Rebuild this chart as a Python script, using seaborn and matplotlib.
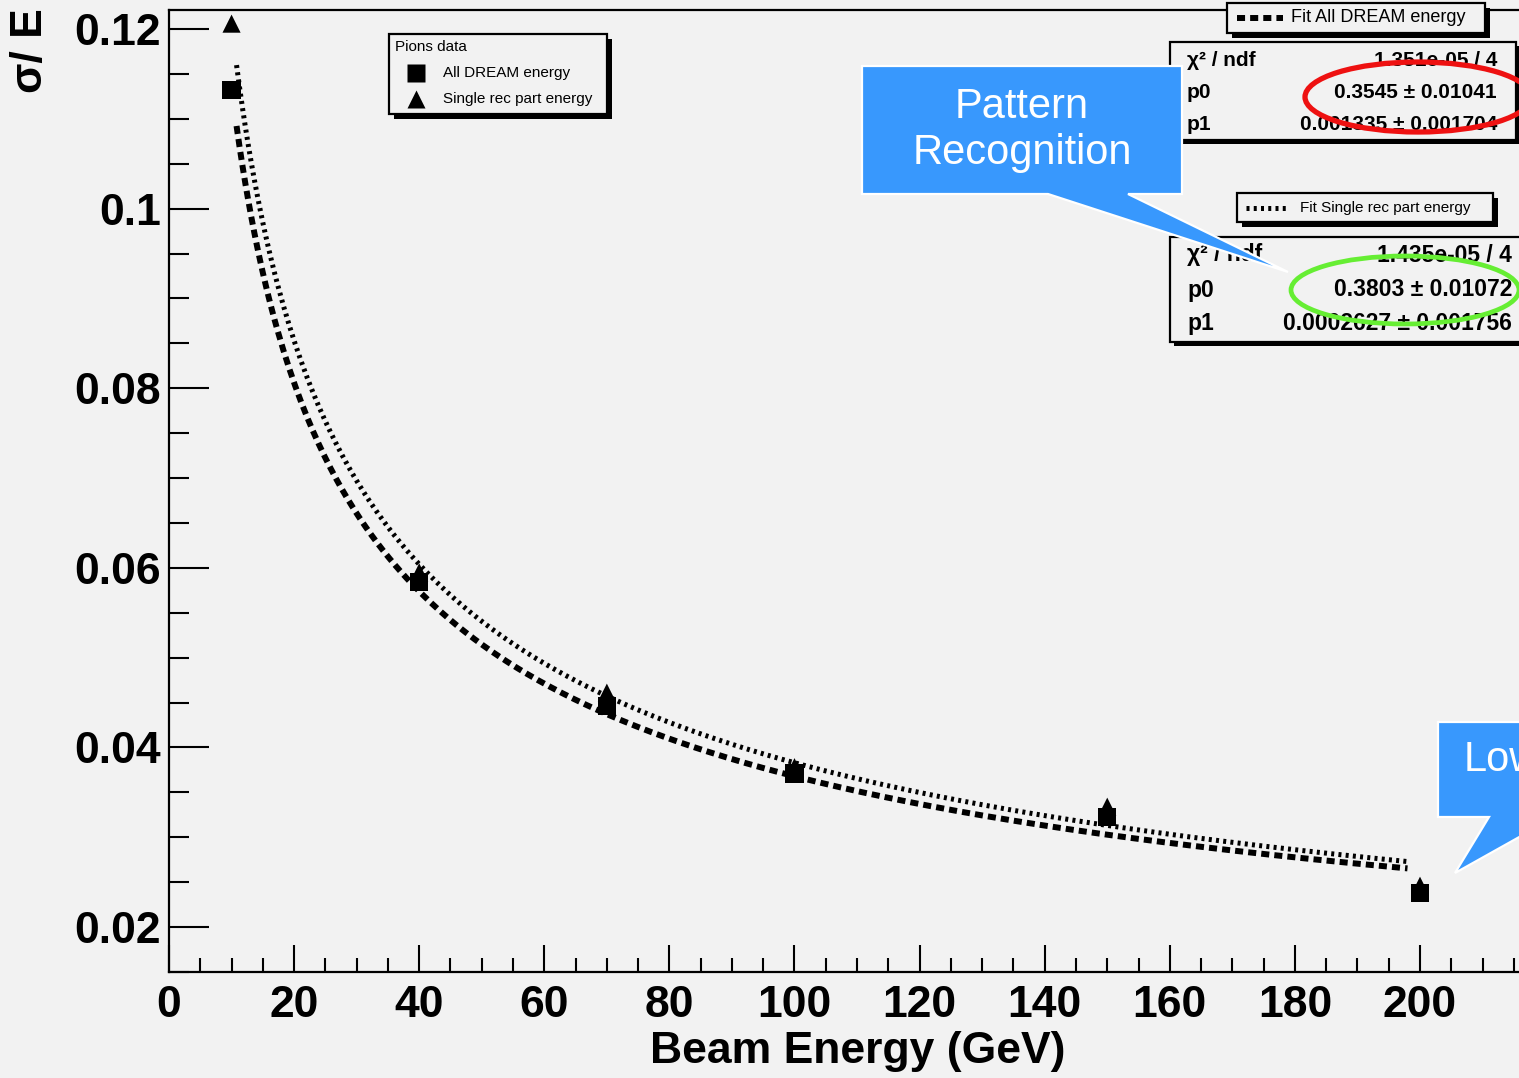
import numpy as np
import pandas as pd
import matplotlib
matplotlib.use("Agg")
import matplotlib.pyplot as plt
import seaborn as sns
from matplotlib.patches import Rectangle, Polygon, Ellipse
from matplotlib.lines import Line2D
from matplotlib.ticker import MultipleLocator, FuncFormatter

# ---- measured resolution for pions ----
beam_energy = [10, 40, 70, 100, 150, 200]
res_all_dream = [0.1132, 0.0584, 0.0446, 0.0371, 0.0323, 0.0238]
res_single_rec = [0.1206, 0.0595, 0.0461, 0.0378, 0.0334, 0.0246]

# ---- fit results: sigma/E = p0/sqrt(E) + p1 ----
chi2_all = "1.351e-05 / 4"
p0_all, p0_all_err = 0.3545, 0.01041
p1_all, p1_all_err = 0.001335, 0.001704

chi2_single = "1.435e-05 / 4"
p0_single, p0_single_err = 0.3803, 0.01072
p1_single, p1_single_err = 0.0002627, 0.001756

fit_range = (10.8, 198.0)

x_ticks = [0, 20, 40, 60, 80, 100, 120, 140, 160, 180, 200]
y_ticks = [0.02, 0.04, 0.06, 0.08, 0.1, 0.12]

W, H = 1519, 1078
BG = "#f2f2f2"
BLUE = "#3898fd"

sns.set_style("ticks")
plt.rcParams["font.family"] = ["Liberation Sans", "DejaVu Sans"]
plt.rcParams["text.color"] = "black"
plt.rcParams["xtick.color"] = "black"
plt.rcParams["ytick.color"] = "black"
plt.rcParams["xtick.labelcolor"] = "black"
plt.rcParams["ytick.labelcolor"] = "black"

fig = plt.figure(figsize=(W / 100, H / 100), dpi=100)
fig.patch.set_facecolor(BG)


def F(px, py):
    return (px / W, 1 - py / H)


def box(x0, y0, x1, y1, shadow=5, z=5, lw=1.6):
    if shadow:
        fig.add_artist(Rectangle(F(x0 + shadow, y1 + shadow), (x1 - x0) / W, (y1 - y0) / H,
                                 transform=fig.transFigure, facecolor="black",
                                 edgecolor="none", zorder=z))
    fig.add_artist(Rectangle(F(x0, y1), (x1 - x0) / W, (y1 - y0) / H,
                             transform=fig.transFigure, facecolor=BG,
                             edgecolor="black", lw=lw, zorder=z + 0.1))


# axes: x from 0 at px 169, 6.255 px per GeV
x0px, pxx = 169, 6.255
xmax = 220
ytop, ybot = 0.12212, 0.01499
ax = fig.add_axes([x0px / W, 1 - 972 / H, xmax * pxx / W, (972 - 10) / H])
ax.set_facecolor(BG)
ax.set_xlim(0, xmax)
ax.set_ylim(ybot, ytop)

# data points
pts = pd.DataFrame({
    "energy": beam_energy * 2,
    "res": res_all_dream + res_single_rec,
    "sample": ["All DREAM energy"] * len(beam_energy) + ["Single rec part energy"] * len(beam_energy),
})
sns.scatterplot(data=pts, x="energy", y="res", style="sample",
                markers={"All DREAM energy": "s", "Single rec part energy": "^"},
                color="black", s=170, edgecolor="none", legend=False, ax=ax, zorder=4)

# fitted curves
e_grid = np.linspace(fit_range[0], fit_range[1], 400)
fit_all_curve = p0_all / np.sqrt(e_grid) + p1_all
fit_single_curve = p0_single / np.sqrt(e_grid) + p1_single
dash_style = (0, (1.35, 0.85))
dot_style = (0, (0.6, 0.85))
sns.lineplot(x=e_grid, y=fit_all_curve, ax=ax, color="black", lw=4.3,
             linestyle=dash_style, dash_capstyle="butt", zorder=3)
sns.lineplot(x=e_grid, y=fit_single_curve, ax=ax, color="black", lw=3.6,
             linestyle=dot_style, dash_capstyle="butt", zorder=3)

# axes styling
for side in ["left", "bottom", "top"]:
    ax.spines[side].set_linewidth(1.6)
    ax.spines[side].set_color("black")
ax.spines["right"].set_visible(False)
ax.set_xticks(x_ticks)
ax.set_yticks(y_ticks)
ax.xaxis.set_minor_locator(MultipleLocator(5))
ax.yaxis.set_minor_locator(MultipleLocator(0.005))
ax.tick_params(axis="y", which="major", direction="in", length=28.8, width=1.5, pad=6)
ax.tick_params(axis="y", which="minor", direction="in", length=14.4, width=1.5)
ax.tick_params(axis="x", which="major", direction="in", length=19.4, width=1.5, pad=9.5)
ax.tick_params(axis="x", which="minor", direction="in", length=10, width=1.5)
ax.xaxis.set_major_formatter(FuncFormatter(lambda v, p: f"{v:g}"))
ax.yaxis.set_major_formatter(FuncFormatter(lambda v, p: f"{v:g}"))
for lab in ax.get_xticklabels() + ax.get_yticklabels():
    lab.set_fontsize(32)
    lab.set_fontweight("bold")
    lab.set_color("black")
ax.set_xlabel("")
ax.set_ylabel("")

fig.text(*F(1066, 1052), "Beam Energy (GeV)", ha="right", va="center",
         fontsize=32, fontweight="bold")
fig.text(*F(31, 8), "σ/ E", rotation=90, ha="center", va="top",
         fontsize=32, fontweight="bold")

# ---- data legend ----
box(389, 34, 607, 114, shadow=5)
fig.text(*F(395, 47), "Pions data", ha="left", va="center", fontsize=11, zorder=6)
fig.add_artist(Line2D([F(416, 73)[0]], [F(416, 73)[1]], marker="s", ms=12.5, color="black",
                      mec="none", transform=fig.transFigure, zorder=6))
fig.add_artist(Line2D([F(416, 99)[0]], [F(416, 99)[1]], marker="^", ms=13, color="black",
                      mec="none", transform=fig.transFigure, zorder=6))
fig.text(*F(443, 73), "All DREAM energy", ha="left", va="center", fontsize=11, zorder=6)
fig.text(*F(443, 99), "Single rec part energy", ha="left", va="center", fontsize=11, zorder=6)

# ---- fit boxes ----
box(1227, 3, 1485, 33, shadow=5)
fig.add_artist(Line2D([F(1237, 18)[0], F(1283, 18)[0]], [F(0, 18)[1]] * 2, color="black",
                      lw=4.3, linestyle=(0, (1.35, 0.85)), dash_capstyle="butt",
                      transform=fig.transFigure, zorder=6))
fig.text(*F(1291, 18), "Fit All DREAM energy", ha="left", va="center", fontsize=13, zorder=6)

box(1170, 42, 1516, 140, shadow=4)
rows1 = [("χ² / ndf", chi2_all, 61),
         ("p0", f"{p0_all:.4g} ± {p0_all_err:.4g}", 93),
         ("p1", f"{p1_all:.4g} ± {p1_all_err:.4g}", 124)]
for name, val, yy in rows1:
    fig.text(*F(1187, yy), name, ha="left", va="center", fontsize=15, fontweight="bold", zorder=6)
    fig.text(*F(1497, yy), val, ha="right", va="center", fontsize=15, fontweight="bold", zorder=6)

box(1237, 193, 1493, 222, shadow=5)
fig.add_artist(Line2D([F(1246, 208)[0], F(1288, 208)[0]], [F(0, 208)[1]] * 2, color="black",
                      lw=3.6, linestyle=(0, (0.6, 0.85)), dash_capstyle="butt",
                      transform=fig.transFigure, zorder=6))
fig.text(*F(1300, 208), "Fit Single rec part energy", ha="left", va="center", fontsize=11, zorder=6)

box(1170, 237, 1530, 342, shadow=4)
rows2 = [("χ² / ndf", chi2_single, 255),
         ("p0", f"{p0_single:.4g} ± {p0_single_err:.4g}", 290),
         ("p1", f"{p1_single:.4g} ± {p1_single_err:.4g}", 323)]
for name, val, yy in rows2:
    fig.text(*F(1187, yy), name, ha="left", va="center", fontsize=16.5, fontweight="bold", zorder=6)
    fig.text(*F(1512, yy), val, ha="right", va="center", fontsize=16.5, fontweight="bold", zorder=6)

# ---- highlight rings ----
fig.add_artist(Ellipse(F(1418, 97), 226 / W, 70 / H, transform=fig.transFigure,
                       facecolor="none", edgecolor="#ee1111", lw=3.8, zorder=7))
fig.add_artist(Ellipse(F(1405, 290), 228 / W, 68 / H, transform=fig.transFigure,
                       facecolor="none", edgecolor="#66ee33", lw=3.4, zorder=7))

# ---- callouts ----
call1 = [(862, 66), (1182, 66), (1182, 194), (1128, 194), (1288, 272), (1048, 194), (862, 194)]
fig.add_artist(Polygon([F(*p) for p in call1], closed=True, transform=fig.transFigure,
                       facecolor=BLUE, edgecolor="white", lw=1.6, zorder=8))
fig.text(*F(1022, 130), "Pattern\nRecognition", ha="center", va="center", color="white",
         fontsize=30, linespacing=1.2, zorder=9)

call2 = [(1438, 722), (1600, 722), (1600, 817), (1555, 817), (1455, 873), (1489, 817), (1438, 817)]
fig.add_artist(Polygon([F(*p) for p in call2], closed=True, transform=fig.transFigure,
                       facecolor=BLUE, edgecolor="white", lw=1.6, zorder=8))
fig.text(*F(1464, 760), "Low", ha="left", va="center", color="white",
         fontsize=30, zorder=9)

fig.savefig("out.png", dpi=100, facecolor=BG)
